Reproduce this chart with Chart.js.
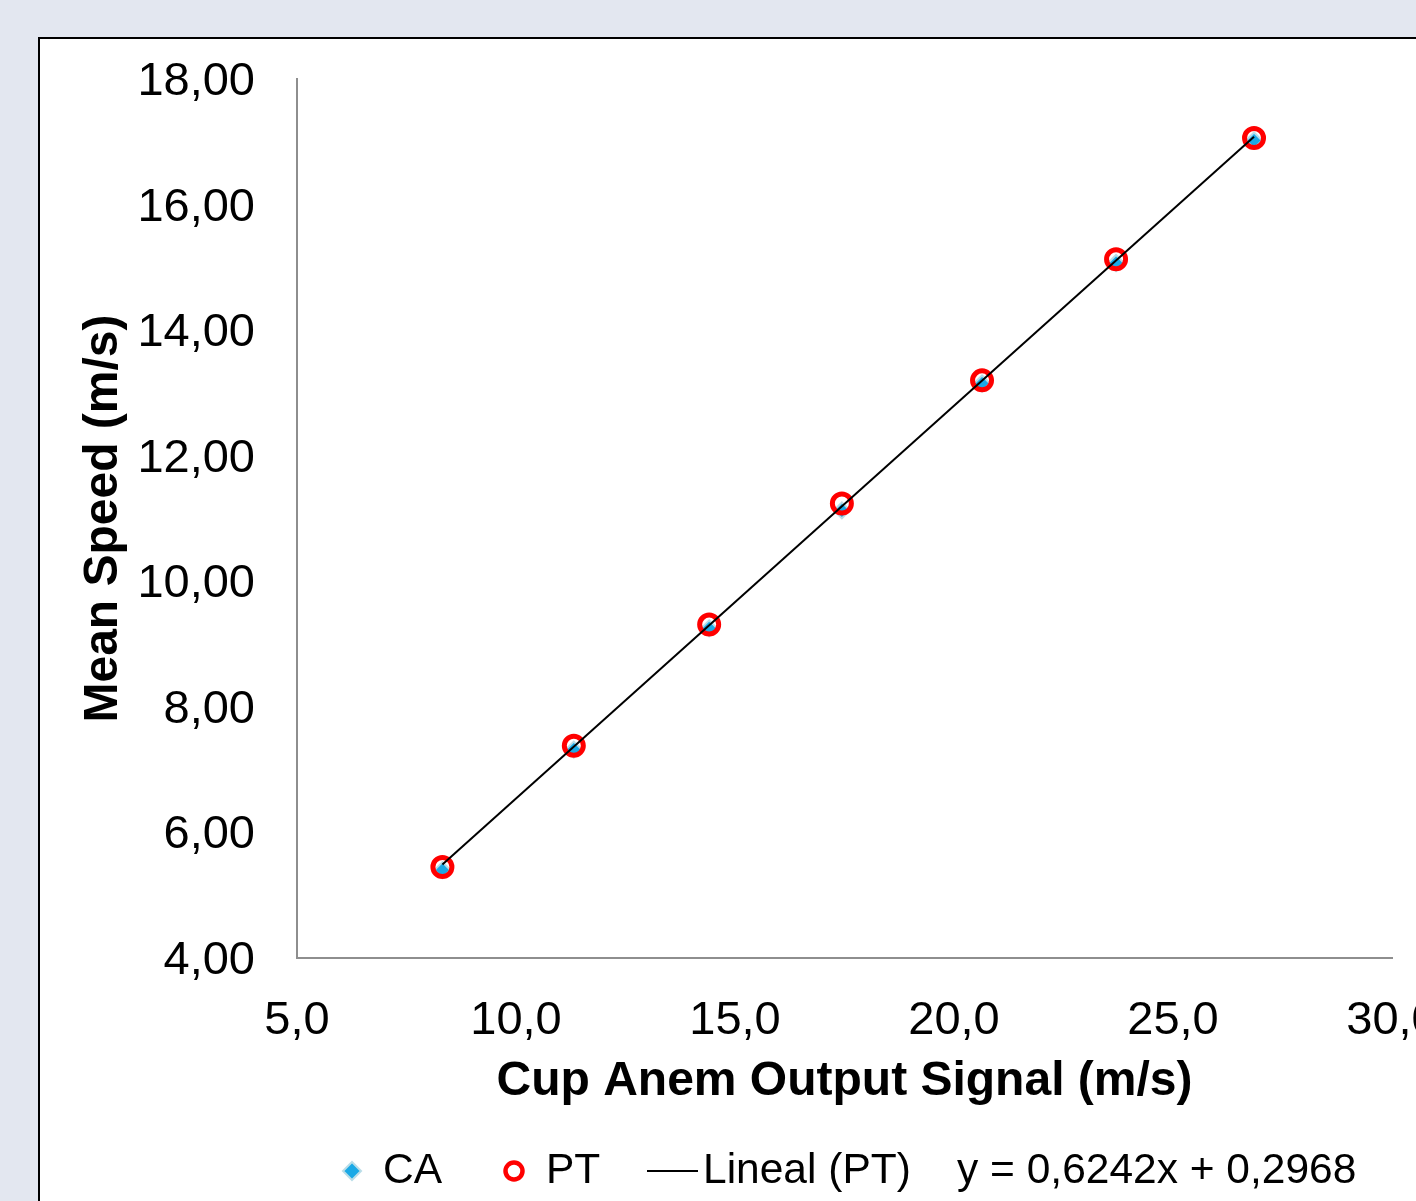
<!DOCTYPE html>
<html>
<head>
<meta charset="utf-8">
<script src="https://cdn.jsdelivr.net/npm/chart.js"></script>
<style>
  html, body { margin: 0; padding: 0; overflow: hidden; background: #e3e7f0; }
  #chart { display: block; }
</style>
</head>
<body>
<canvas id="chart" width="1416" height="1201"></canvas>
<script>
// values
const signalX = [8.32, 11.32, 14.41, 17.44, 20.64, 23.70, 26.85];
const ptSpeed = [5.45, 7.38, 9.31, 11.24, 13.20, 15.13, 17.06];
const caSpeed = [5.40, 7.32, 9.25, 11.13, 13.15, 15.07, 17.02];
const trendX = [8.32, 26.85];
const trendY = [5.49, 17.08];
const seriesLabels = ['CA', 'PT', 'Lineal (PT)'];
const equationText = 'y = 0,6242x + 0,2968';

const toPoints = (xs, ys) => xs.map((x, i) => ({ x: x, y: ys[i] }));

const FONT = '"Liberation Sans", Arial, sans-serif';

// grey page behind a white framed plot
const framePlugin = {
  id: 'frame',
  beforeDraw(chart) {
    const ctx = chart.ctx;
    ctx.save();
    ctx.fillStyle = '#e3e7f0';
    ctx.fillRect(0, 0, chart.width, chart.height);
    ctx.fillStyle = '#ffffff';
    ctx.fillRect(39, 38, chart.width, chart.height);
    ctx.strokeStyle = '#000000';
    ctx.lineWidth = 2;
    ctx.beginPath();
    ctx.moveTo(39, chart.height + 2);
    ctx.lineTo(39, 38);
    ctx.lineTo(chart.width + 2, 38);
    ctx.stroke();
    ctx.restore();
  }
};

// Excel-like legend row with the trendline equation
const legendPlugin = {
  id: 'excelLegend',
  afterDraw(chart) {
    const ctx = chart.ctx;
    const y = 1171;
    ctx.save();
    ctx.font = '42.5px ' + FONT;
    ctx.textBaseline = 'middle';
    ctx.textAlign = 'left';
    ctx.fillStyle = '#000000';

    // CA diamond
    ctx.beginPath();
    ctx.moveTo(352, y - 9);
    ctx.lineTo(361, y);
    ctx.lineTo(352, y + 9);
    ctx.lineTo(343, y);
    ctx.closePath();
    ctx.fillStyle = '#1aa9e6';
    ctx.fill();
    ctx.strokeStyle = '#b9dde8';
    ctx.lineWidth = 2;
    ctx.stroke();
    ctx.fillStyle = '#000000';
    ctx.fillText(seriesLabels[0], 383, y);

    // PT circle
    ctx.beginPath();
    ctx.arc(514, y, 8.5, 0, Math.PI * 2);
    ctx.strokeStyle = '#ff0000';
    ctx.lineWidth = 4.5;
    ctx.stroke();
    ctx.fillText(seriesLabels[1], 546, y);

    // trendline
    ctx.beginPath();
    ctx.moveTo(647, y);
    ctx.lineTo(698, y);
    ctx.strokeStyle = '#000000';
    ctx.lineWidth = 2;
    ctx.stroke();
    ctx.fillText(seriesLabels[2], 703, y);

    ctx.fillText(equationText, 957, y);
    ctx.restore();
  }
};

new Chart(document.getElementById('chart'), {
  type: 'scatter',
  data: {
    datasets: [
      {
        type: 'line',
        label: seriesLabels[2],
        data: toPoints(trendX, trendY),
        borderColor: '#000000',
        borderWidth: 2,
        pointRadius: 0,
        fill: false
      },
      {
        label: seriesLabels[1],
        data: toPoints(signalX, ptSpeed),
        pointStyle: 'circle',
        pointRadius: 9.5,
        pointBorderWidth: 5,
        pointBorderColor: '#ff0000',
        pointBackgroundColor: 'rgba(0,0,0,0)',
        borderColor: '#ff0000',
        backgroundColor: 'rgba(0,0,0,0)'
      },
      {
        label: seriesLabels[0],
        data: toPoints(signalX, caSpeed),
        pointStyle: 'rectRot',
        pointRadius: 8,
        pointBorderWidth: 2,
        pointBorderColor: '#b9dde8',
        pointBackgroundColor: '#1aa9e6',
        borderColor: '#b9dde8',
        backgroundColor: '#1aa9e6'
      }
    ]
  },
  options: {
    responsive: false,
    animation: false,
    layout: { padding: { top: 79, right: 24, bottom: 0, left: 0 } },
    plugins: {
      legend: { display: false },
      tooltip: { enabled: false }
    },
    scales: {
      x: {
        type: 'linear',
        min: 5,
        max: 30,
        grid: { display: false },
        border: { display: true, color: '#8e8e8e', width: 2 },
        ticks: {
          stepSize: 5,
          padding: 27,
          color: '#000000',
          font: { family: FONT, size: 47 },
          maxRotation: 0,
          callback: v => v.toFixed(1).replace('.', ',')
        },
        title: {
          display: true,
          text: 'Cup Anem Output Signal (m/s)',
          color: '#000000',
          font: { family: FONT, size: 48, weight: 'bold' },
          padding: { top: 0, bottom: 90 }
        },
        afterFit(scale) {
          scale.height = 243;
          scale.paddingLeft = 0;
          scale.paddingRight = 0;
        }
      },
      y: {
        type: 'linear',
        min: 4,
        max: 18,
        grid: { display: false },
        border: { display: true, color: '#8e8e8e', width: 2 },
        ticks: {
          stepSize: 2,
          padding: 34,
          labelOffset: 3,
          color: '#000000',
          font: { family: FONT, size: 47 },
          callback: v => v.toFixed(2).replace('.', ',')
        },
        title: {
          display: true,
          text: 'Mean Speed (m/s)',
          color: '#000000',
          font: { family: FONT, size: 48, weight: 'bold' },
          padding: { top: 75, bottom: 0 }
        },
        afterFit(scale) {
          scale.width = 297;
          scale.paddingTop = 0;
          scale.paddingBottom = 0;
        }
      }
    }
  },
  plugins: [framePlugin, legendPlugin]
});
</script>
</body>
</html>
